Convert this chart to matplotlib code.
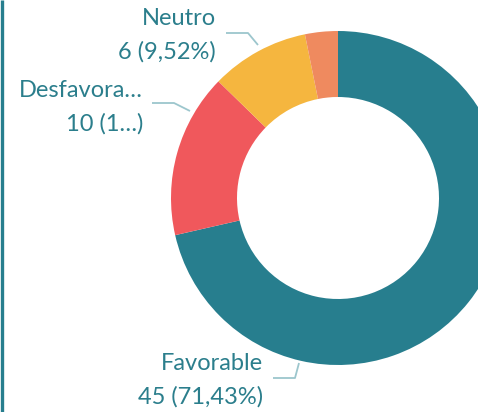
import matplotlib
matplotlib.use("Agg")
import matplotlib.pyplot as plt

# Survey responses
categories = ["Favorable", "Desfavorable", "Neutro", "Otro"]
counts = [45, 10, 6, 2]
colors = ["#277E8E", "#F0585C", "#F5B63F", "#EF8A5F"]

TEXT_COLOR = "#2B7E8C"
LEADER_COLOR = "#9CC6CD"
W, H = 478, 412

fig = plt.figure(figsize=(W / 100, H / 100), dpi=100)
ax = fig.add_axes([0, 0, 1, 1])

cx, cy, radius = 338, H - 198, 167
ax.pie(counts, colors=colors, startangle=90, counterclock=False,
       radius=radius, center=(cx, cy),
       wedgeprops=dict(width=66, linewidth=0))

ax.set_xlim(0, W)
ax.set_ylim(0, H)
ax.set_aspect("equal")
ax.axis("off")

total = sum(counts)


def truncate(s, n):
    return s if n is None or len(s) <= n else s[:n] + "\u2026"


# label layout in pixel units (y measured from the top)
label_layout = {
    "Neutro": dict(leader=[(258, 45), (248, 33), (226, 33)], tx=216, ty=(18, 52), cut=(None, None)),
    "Desfavorable": dict(leader=[(190, 111), (174, 103), (152, 103)], tx=143, ty=(90, 124), cut=(9, 1)),
    "Favorable": dict(leader=[(299, 363), (295, 378), (273, 378)], tx=263, ty=(364, 397), cut=(None, None)),
}

font = dict(family=["Lato", "DejaVu Sans"], size=17, color=TEXT_COLOR)

for name, val in zip(categories, counts):
    if name not in label_layout:
        continue
    lay = label_layout[name]
    pct = f"{100 * val / total:.2f}".replace(".", ",") + "%"
    line1 = truncate(name, lay["cut"][0])
    line2 = f"{val} ({truncate(pct, lay['cut'][1])})"
    xs = [p[0] for p in lay["leader"]]
    ys = [H - p[1] for p in lay["leader"]]
    ax.plot(xs, ys, color=LEADER_COLOR, lw=1.3, solid_capstyle="butt")
    ax.text(lay["tx"], H - lay["ty"][0], line1, ha="right", va="center", **font)
    ax.text(lay["tx"], H - lay["ty"][1], line2, ha="right", va="center", **font)

# left frame edge
ax.plot([2, 2], [0, H], color="#277E8E", lw=2.4, solid_capstyle="butt")

fig.savefig("out.png", dpi=100)
